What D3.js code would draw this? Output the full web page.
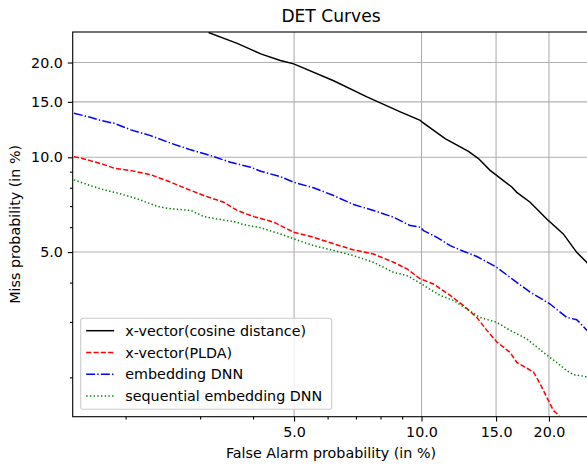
<!DOCTYPE html>
<html>
<head>
<meta charset="utf-8">
<script src="https://cdn.jsdelivr.net/npm/d3@7"></script>
<style>
    body { margin: 0; background: #fff; }
    .chart_text { font-family: 'DejaVu Sans', sans-serif; fill: #000; }
</style>
</head>
<body>
<div id="chart"></div>
<script>
// series labels shown in the legend
const seriesNames = ['x-vector(cosine distance)', 'x-vector(PLDA)', 'embedding DNN', 'sequential embedding DNN'];

// false alarm (%) / miss (%) pairs, one pair of arrays per series
const cosineFA   = [3.14, 3.67, 4.17, 4.64, 4.99, 6.20, 7.43, 8.91, 9.93, 10.02, 11.37, 12.91, 13.63, 14.52, 15.61, 16.34, 16.79, 18.05, 19.76, 21.62, 23.26, 24.55, 25.0];
const cosineMiss = [24.9, 23.0, 21.3, 20.3, 19.8, 17.5, 15.55, 13.94, 13.11, 12.95, 11.47, 10.45, 9.91, 9.09, 8.43, 8.05, 7.74, 7.20, 6.37, 5.71, 4.99, 4.64, 4.5];

const pldaFA   = [1.51, 1.65, 1.78, 1.88, 2.06, 2.29, 2.56, 2.75, 3.06, 3.41, 3.67, 3.95, 4.02, 4.48, 4.99, 5.56, 6.20, 6.91, 7.70, 8.59, 9.24, 9.93, 10.67, 11.69, 12.56, 13.51, 14.27, 15.06, 16.19, 16.79, 18.38, 19.05, 19.76, 20.48, 21.16];
const pldaMiss = [10.05, 9.76, 9.48, 9.23, 9.07, 8.81, 8.33, 8.00, 7.56, 7.20, 6.78, 6.53, 6.48, 6.22, 5.78, 5.57, 5.31, 5.08, 4.93, 4.64, 4.42, 4.11, 3.96, 3.64, 3.38, 3.10, 2.82, 2.59, 2.40, 2.23, 2.08, 1.91, 1.73, 1.57, 1.51];

const dnnFA   = [1.51, 1.65, 1.75, 1.88, 2.06, 2.29, 2.56, 2.85, 3.18, 3.54, 3.95, 4.17, 4.64, 4.99, 5.56, 6.20, 6.91, 7.70, 8.59, 9.40, 9.93, 10.11, 10.87, 11.69, 12.56, 13.51, 15.06, 16.48, 18.05, 20.12, 22.03, 23.26, 24.59, 25.0];
const dnnMiss = [13.80, 13.40, 13.08, 12.82, 12.22, 11.72, 11.08, 10.56, 10.12, 9.64, 9.30, 9.03, 8.68, 8.33, 8.00, 7.56, 7.08, 6.78, 6.45, 6.07, 6.00, 5.85, 5.57, 5.24, 5.03, 4.84, 4.47, 4.08, 3.73, 3.42, 3.10, 3.05, 2.82, 2.79];

const seqFA   = [1.51, 1.65, 1.78, 1.95, 2.13, 2.38, 2.56, 2.85, 3.06, 3.29, 3.67, 3.74, 4.17, 4.64, 4.99, 5.56, 6.20, 6.91, 7.70, 8.59, 9.24, 9.93, 11.07, 11.90, 12.80, 13.75, 15.06, 16.19, 17.73, 19.40, 20.87, 22.03, 22.84, 24.55, 25.0];
const seqMiss = [8.48, 8.13, 7.88, 7.65, 7.38, 6.98, 6.86, 6.78, 6.48, 6.37, 6.22, 6.14, 5.97, 5.71, 5.51, 5.24, 5.06, 4.87, 4.64, 4.31, 4.21, 3.98, 3.64, 3.51, 3.30, 3.10, 2.99, 2.82, 2.65, 2.40, 2.23, 2.10, 2.04, 2.01, 2.00];

// tick values
const majorTicks = [5, 10, 15, 20];
const minorTicks = [2, 3, 4, 6, 7, 8, 9];
const axisLimits = [1.5, 25];

const series = [
    {name: seriesNames[0], fa: cosineFA, miss: cosineMiss, color: '#000000', dash: null},
    {name: seriesNames[1], fa: pldaFA,   miss: pldaMiss,   color: '#ff0000', dash: '5.1,2.2'},
    {name: seriesNames[2], fa: dnnFA,    miss: dnnMiss,    color: '#0000ff', dash: '8.9,2.2,1.4,2.2'},
    {name: seriesNames[3], fa: seqFA,    miss: seqMiss,    color: '#008000', dash: '1.4,2.3'}
];

const width = 587, height = 466;
const margin = [32, 49.3, 72.7, -3];   // top, bottom, left, right (right edge runs past the picture)
const plotW = width - margin[2] - margin[3],
      plotH = height - margin[0] - margin[1];
const fontSize = '14.3px';

const svg = d3.select('#chart')
    .append('svg')
    .attr('width', width)
    .attr('height', height);

const scaleX = d3.scaleLog(axisLimits, [0, plotW]);
const scaleY = d3.scaleLog(axisLimits, [plotH, 0]);
const fmt = d3.format('.1f');

svg.append('defs').append('clipPath')
    .attr('id', 'plotclip')
    .append('rect')
    .attr('width', plotW)
    .attr('height', plotH);

const chart = svg.append('g')
    .attr('transform', `translate(${margin[2]},${margin[0]})`);

// grid on the major ticks
chart.append('g').selectAll('line.gx')
    .data(majorTicks)
    .join('line')
    .attr('x1', d => scaleX(d)).attr('x2', d => scaleX(d))
    .attr('y1', 0).attr('y2', plotH)
    .attr('stroke', '#b0b0b0').attr('stroke-width', 1.1);
chart.append('g').selectAll('line.gy')
    .data(majorTicks)
    .join('line')
    .attr('y1', d => scaleY(d)).attr('y2', d => scaleY(d))
    .attr('x1', 0).attr('x2', plotW)
    .attr('stroke', '#b0b0b0').attr('stroke-width', 1.1);

// curves
const line = d3.line()
    .x(d => scaleX(d[0]))
    .y(d => scaleY(d[1]));

chart.append('g')
    .attr('clip-path', 'url(#plotclip)')
    .selectAll('path')
    .data(series)
    .join('path')
    .attr('d', s => line(d3.zip(s.fa, s.miss)))
    .attr('fill', 'none')
    .attr('stroke', s => s.color)
    .attr('stroke-width', 1.5)
    .attr('stroke-dasharray', s => s.dash);

// axes
chart.append('g')
    .attr('transform', `translate(0,${plotH})`)
    .call(d3.axisBottom(scaleX).tickValues(majorTicks).tickFormat(fmt).tickSize(4.9).tickPadding(4.9));
chart.append('g')
    .attr('transform', `translate(0,${plotH})`)
    .call(d3.axisBottom(scaleX).tickValues(minorTicks).tickFormat('').tickSize(2.8));
chart.append('g')
    .call(d3.axisLeft(scaleY).tickValues(majorTicks).tickFormat(fmt).tickSize(4.9).tickPadding(4.9));
chart.append('g')
    .call(d3.axisLeft(scaleY).tickValues(minorTicks).tickFormat('').tickSize(2.8));

chart.selectAll('.domain').remove();
chart.selectAll('.tick line').attr('stroke', '#000').attr('stroke-width', 1.1);
chart.selectAll('.tick text')
    .attr('class', 'chart_text')
    .style('font-size', fontSize);

// spines
chart.append('rect')
    .attr('width', plotW)
    .attr('height', plotH)
    .attr('fill', 'none')
    .attr('stroke', '#000')
    .attr('stroke-width', 1.1);

// title and labels
svg.append('text')
    .classed('chart_text', true)
    .attr('x', 331).attr('y', 22)
    .attr('text-anchor', 'middle')
    .style('font-size', '17.1px')
    .text('DET Curves');

svg.append('text')
    .classed('chart_text', true)
    .attr('x', 331).attr('y', 458)
    .attr('text-anchor', 'middle')
    .style('font-size', fontSize)
    .text('False Alarm probability (in %)');

svg.append('text')
    .classed('chart_text', true)
    .attr('transform', `translate(20,${margin[0] + plotH / 2})rotate(-90)`)
    .attr('text-anchor', 'middle')
    .style('font-size', fontSize)
    .text('Miss probability (in %)');

// legend
const legend = svg.append('g')
    .attr('transform', 'translate(80.7,318.3)');
legend.append('rect')
    .attr('width', 251).attr('height', 91)
    .attr('rx', 2.5)
    .attr('fill', '#fff').attr('fill-opacity', 0.8)
    .attr('stroke', '#cccccc').attr('stroke-width', 1.1);
const rows = legend.selectAll('g.row')
    .data(series)
    .join('g')
    .attr('transform', (d, i) => `translate(0,${12.4 + i * 21.8})`);
rows.append('line')
    .attr('x1', 5.5).attr('x2', 33.5)
    .attr('stroke', d => d.color)
    .attr('stroke-width', 1.5)
    .attr('stroke-dasharray', d => d.dash);
rows.append('text')
    .classed('chart_text', true)
    .attr('x', 44.6)
    .attr('dy', '0.35em')
    .style('font-size', fontSize)
    .text(d => d.name);
</script>
</body>
</html>
